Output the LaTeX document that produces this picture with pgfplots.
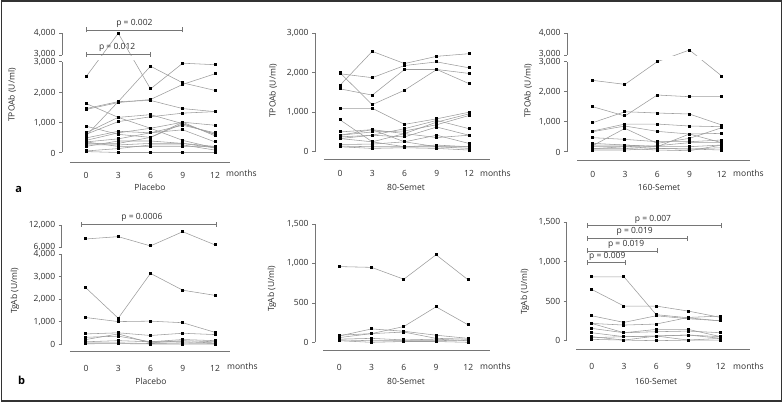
\documentclass[border=0pt]{standalone}
\usepackage{pgfplots}
\pgfplotsset{compat=1.18}
\usepackage{pgfplotstable}
\usepackage{fontspec}
\setmainfont{Open Sans}

\definecolor{txt}{HTML}{2E2E2E}
\definecolor{ln}{HTML}{9C9C9C}
\definecolor{ax}{HTML}{767676}
\newcommand{\lbl}{\fontsize{8.5}{10}\selectfont}

% TPOAb, placebo (months 0,3,6,9,12; one column per patient)
\pgfplotstableread{
m  L1   L2   L3   L4   L5   L6   L7   L8   L9  L10  L11 L12 L13 L14 L15 L16 L17
0  2500 550  1420 1620 1450 600  650  870  480 400  350 300 200 250 50  30  350
3  4000 1680 1650 1160 1680 1020 1160 600  700 650  450 300 380 250 130 0   200
6  2100 2850 1750 800  1720 1180 1250 500  650 800  650 500 380 300 250 0   200
9  2950 2300 2250 400  1450 1300 950  1000 900 1000 750 950 300 300 250 0   200
12 2900 2050 2600 150  1350 1350 600  900  650 550  350 600 200 150 80  0   200
}\tA
% TPOAb, 80-Semet
\pgfplotstableread{
m  L1   L2   L3   L4   L5   L6  L7  L8  L9  L10 L11 L12 L13 L14 L15
0  1975 1683 1592 2000 1100 808 500 417 375 333 183 142 125 417 333
3  1875 2542 1433 1192 1100 250 558 500 417 417 192 125 83  558 250
6  2183 2233 2083 1558 692  125 458 525 583 375 250 125 100 250 458
9  2275 2417 2083 2083 833  125 750 683 792 625 417 167 83  125 358
12 2125 2483 1983 1725 1000 125 958 917 583 417 208 125 42  83  417
}\tB
% TPOAb, 160-Semet
\pgfplotstableread{
m  L1   L2   L3   L4  L5  L6  L7  L8  L9  L10 L11 L12 L13
0  2378 967  1500 689 667 200 467 278 222 167 111 56  100
3  2244 1333 1190 922 856 778 411 222 222 167 111 56  167
6  3000 1289 1889 922 678 278 333 167 167 111 56  111 200
9  3230 1256 1833 856 589 444 333 589 167 89  33  89  300
12 2522 889  1833 833 611 800 389 300 222 133 222 56  300
}\tC
% TgAb, placebo
\pgfplotstableread{
m  L1    L2   L3   L4  L5  L6  L7  L8 L9
0  8250  2500 1180 450 300 200 100 50 10
3  8870  1150 1000 500 350 450 150 50 20
6  6380  3150 1020 380 100 50  100 20 0
9  10200 2400 950  480 200 150 100 50 0
12 6650  2170 520  420 150 100 50  30 0
}\tD
% TgAb, 80-Semet
\pgfplotstableread{
m  L1   L2  L3  L4  L5 L6 L7
0  960  90  80  60  40 30 20
3  950  110 170 110 50 20 0
6  800  200 140 130 30 20 10
9  1110 450 90  50  40 20 10
12 790  220 50  40  20 30 0
}\tE
% TgAb, 160-Semet
\pgfplotstableread{
m  L1  L2  L3  L4  L5  L6  L7  L8 L9 L10
0  810 650 316 219 219 156 101 51 38 17
3  810 439 232 198 101 101 51  8  51 8
6  330 439 316 211 143 114 59  59 59 0
9  290 375 278 295 143 122 72  72 8  8
12 250 295 253 312 51  101 30  51 8  30
}\tF

\pgfplotsset{
  panel/.style={
    scale only axis, anchor=south west, clip=false,
    axis lines*=left, axis line style={draw=none},
    xtick={0,3,6,9,12}, xtick style={draw=none},
    tick align=outside, major tick length=3pt,
    ytick style={ax, line width=0.6pt},
    tick label style={font=\lbl, text=txt},
    /pgf/number format/assume math mode=true,
    xticklabel style={anchor=center, yshift=-11.5pt},
  },
  sp/.style={ln, line width=0.55pt, mark=square*, mark size=1pt,
    mark options={draw=black, fill=black, line width=0pt}},
  brkA/.style={y filter/.expression={y>3000 ? 3221+(y-3000)*0.717 : y}},
  brkC/.style={y filter/.expression={y>3000 ? 3223+(y-3000)*0.724 : y}},
  brkD/.style={y filter/.expression={y>5000 ? 4313+(y-6000)*0.1658 : y}},
  upper/.style={extra y tick style={yticklabel style={yshift=1.3pt}},
    yticklabel style={yshift=-0.6pt}},
}

% bracket: x from, x to, level, text x, text
\newcommand{\pbr}[5]{%
  \draw[ax, line width=0.6pt] (axis cs:#1,#3) -- (axis cs:#2,#3)
    ([yshift=-2.5pt]axis cs:#1,#3) -- ([yshift=2.5pt]axis cs:#1,#3)
    ([yshift=-2.5pt]axis cs:#2,#3) -- ([yshift=2.5pt]axis cs:#2,#3);
  \node[txt, font=\lbl, inner sep=0pt, yshift=6.5pt] at (axis cs:#4,#3) {#5};
}

\begin{document}
\begin{tikzpicture}
\useasboundingbox (0,0) rectangle (783pt,405pt);
\draw[black!80, line width=1.2pt] (1.5pt,4pt) rectangle (781.5pt,404pt);

% ---- a: placebo
\begin{axis}[panel, upper, at={(62pt,243pt)}, width=174.5pt, height=142pt,
  xmin=-2.233, xmax=14, ymin=-314, ymax=4377,
  ytick={0,1000,2000,3000},
  yticklabels={0,{1,000},{2,000},{3,000}},
  extra y ticks={3221,3938}, extra y tick labels={{3,000},{4,000}},
  xticklabel style={yshift=1.5pt}]
\pgfplotsinvokeforeach{1,...,17}{\addplot[sp,brkA] table[x=m,y=L#1]{\tA};}
\fill[white] (axis cs:-0.6,3045) rectangle (axis cs:12.6,3200);
\draw[ax, line width=0.7pt] (axis cs:-2.233,0) -- (axis cs:-2.233,3000)
  (axis cs:-2.233,3221) -- (axis cs:-2.233,3938)
  (axis cs:-1.49,-314) -- (axis cs:13.4,-314);
\pbr{0}{9}{4047}{4.5}{p = 0.002}
\pbr{0}{6}{3244}{2.9}{p = 0.012}
\end{axis}

% ---- a: 80-Semet
\begin{axis}[panel, at={(315pt,245.7pt)}, width=175.5pt, height=139.3pt,
  xmin=-2.326, xmax=14, ymin=-193, ymax=3337,
  ytick={0,1000,2000,3000},
  yticklabels={0,{1,000},{2,000},{3,000}}]
\pgfplotsinvokeforeach{1,...,15}{\addplot[sp] table[x=m,y=L#1]{\tB};}
\draw[ax, line width=0.7pt] (axis cs:-2.326,0) -- (axis cs:-2.326,3000)
  (axis cs:-1.49,-193) -- (axis cs:13.95,-193);
\end{axis}

% ---- a: 160-Semet
\begin{axis}[panel, upper, at={(567pt,245pt)}, width=176.2pt, height=140pt,
  xmin=-2.39, xmax=14, ymin=-277, ymax=4390,
  ytick={0,1000,2000,3000},
  yticklabels={0,{1,000},{2,000},{3,000}},
  extra y ticks={3223,3947}, extra y tick labels={{3,000},{4,000}}]
\pgfplotsinvokeforeach{1,...,13}{\addplot[sp,brkC] table[x=m,y=L#1]{\tC};}
\fill[white] (axis cs:-0.6,3045) rectangle (axis cs:12.6,3200);
\draw[ax, line width=0.7pt] (axis cs:-2.39,0) -- (axis cs:-2.39,3000)
  (axis cs:-2.39,3223) -- (axis cs:-2.39,3947)
  (axis cs:-1.46,-277) -- (axis cs:14.6,-277);
\end{axis}

% ---- b: placebo
\begin{axis}[panel, at={(61.7pt,54pt)}, width=174.8pt, height=139pt,
  xmin=-2.26, xmax=14, ymin=-312, ymax=5888,
  ytick={0,1000,2000,3000,4000,4313,5308},
  yticklabels={0,{1,000},{2,000},{3,000},{4,000},{6,000},{12,000}},
  xticklabel style={yshift=-2.5pt}]
\pgfplotsinvokeforeach{1,...,9}{\addplot[sp,brkD] table[x=m,y=L#1]{\tD};}
\draw[ax, line width=0.7pt] (axis cs:-2.26,0) -- (axis cs:-2.26,4000)
  (axis cs:-2.26,4313) -- (axis cs:-2.26,5308)
  (axis cs:-1.49,-312) -- (axis cs:13.4,-312);
\pbr{-0.4}{12.1}{5352}{5.2}{p = 0.0006}
\end{axis}

% ---- b: 80-Semet
\begin{axis}[panel, at={(315pt,54.3pt)}, width=174.8pt, height=138.7pt,
  xmin=-2.26, xmax=14, ymin=-106.5, ymax=1652,
  ytick={0,500,1000,1500},
  yticklabels={0,500,{1,000},{1,500}},
  xticklabel style={yshift=-2.5pt}]
\pgfplotsinvokeforeach{1,...,7}{\addplot[sp] table[x=m,y=L#1]{\tE};}
\draw[ax, line width=0.7pt] (axis cs:-2.26,0) -- (axis cs:-2.26,1500)
  (axis cs:-1.49,-106.5) -- (axis cs:14,-106.5);
\end{axis}

% ---- b: 160-Semet
\begin{axis}[panel, at={(566.7pt,55.7pt)}, width=175.5pt, height=137.3pt,
  xmin=-2.326, xmax=14, ymin=-109, ymax=1631,
  ytick={0,500,1000,1500},
  yticklabels={0,500,{1,000},{1,500}},
  xticklabel style={yshift=-3pt}]
\pgfplotsinvokeforeach{1,...,10}{\addplot[sp] table[x=m,y=L#1]{\tF};}
\draw[ax, line width=0.7pt] (axis cs:-2.326,0) -- (axis cs:-2.326,1500)
  (axis cs:-1.46,-109) -- (axis cs:14.7,-109);
\pbr{-0.37}{12.07}{1458}{5.7}{p = 0.007}
\pbr{-0.37}{8.85}{1298}{4.0}{p = 0.019}
\pbr{-0.37}{6.1}{1137}{3.2}{p = 0.019}
\pbr{-0.37}{3.17}{989}{1.45}{p = 0.009}
\end{axis}

% ---- labels
\begin{scope}[every node/.style={font=\lbl, text=txt, inner sep=0pt}]
\node[rotate=90] at (12pt,310pt) {TPOAb (U/ml)};
\node[rotate=90] at (273pt,314pt) {TPOAb (U/ml)};
\node[rotate=90] at (528pt,314pt) {TPOAb (U/ml)};
\node[rotate=90] at (15pt,114pt) {TgAb (U/ml)};
\node[rotate=90] at (272pt,116pt) {TgAb (U/ml)};
\node[rotate=90] at (525pt,113pt) {TgAb (U/ml)};
\node at (150pt,217.7pt) {Placebo};
\node at (406pt,217.7pt) {80-Semet};
\node at (659pt,217.7pt) {160-Semet};
\node at (151pt,23.3pt) {Placebo};
\node at (406pt,23.3pt) {80-Semet};
\node at (656pt,23.3pt) {160-Semet};
\node[anchor=west] at (226pt,231.7pt) {months};
\node[anchor=west] at (480pt,231.7pt) {months};
\node[anchor=west] at (733pt,231.7pt) {months};
\node[anchor=west] at (227pt,38.3pt) {months};
\node[anchor=west] at (480pt,38.3pt) {months};
\node[anchor=west] at (733pt,38.3pt) {months};
\end{scope}
\node[font=\bfseries\fontsize{11}{12}\selectfont, inner sep=0pt] at (18.8pt,216pt) {a};
\node[font=\bfseries\fontsize{11}{12}\selectfont, inner sep=0pt] at (21.7pt,25pt) {b};
\end{tikzpicture}
\end{document}
